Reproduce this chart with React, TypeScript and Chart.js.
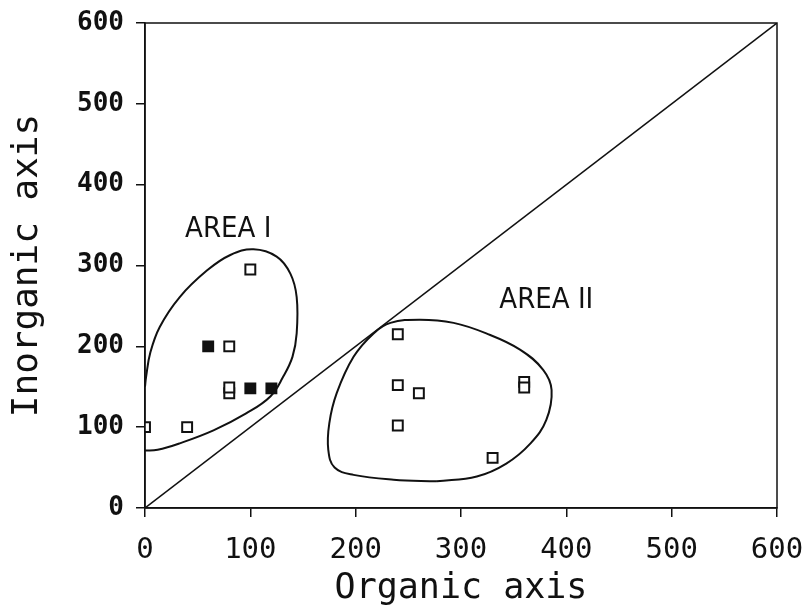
import React, { useEffect, useRef } from "react";
import { Chart, registerables } from "chart.js";

Chart.register(...registerables);

// Axis ticks
const axisMin = 0;
const axisMax = 600;
const axisStep = 100;

// Open squares (organic, inorganic)
const openX = [0, 40, 80, 80, 80, 100, 240, 240, 260, 240, 360, 360, 330];
const openY = [100, 100, 142, 149, 200, 295, 215, 152, 142, 102, 156, 149, 62];

// Filled squares
const filledX = [60, 100, 120];
const filledY = [200, 148, 148];

// Diagonal line (inorganic = organic)
const diagX = [0, 600];
const diagY = [0, 600];

// AREA I outline
const areaIX = [0, 1, 5, 14, 33, 59, 81, 103, 125, 138, 144, 144, 140, 131, 119, 96, 65, 33, 12, 0];
const areaIY = [150, 162, 192, 224, 261, 294, 313, 320, 311, 290, 261, 216, 187, 162, 138, 117, 96, 80, 72, 71];

// AREA II outline (closed)
const areaIIX = [277, 315, 343, 366, 381, 386, 378, 356, 324, 293, 261, 233, 217, 198, 182, 175, 174, 180, 198, 236, 277];
const areaIIY = [33, 39, 55, 80, 109, 146, 171, 196, 216, 229, 233, 229, 216, 187, 142, 105, 72, 50, 41, 35, 33];

// Area labels
const areaLabels = ["AREA I", "AREA II"];
const areaLabelX = [79, 381];
const areaLabelY = [345, 257];

const xTitle = "Organic axis";
const yTitle = "Inorganic axis";

const zip = (xs: number[], ys: number[]) => xs.map((x, i) => ({ x, y: ys[i] }));

const framePlugin = {
  id: "frame",
  afterDatasetsDraw(chart: any) {
    const { ctx, chartArea } = chart;
    ctx.save();
    ctx.strokeStyle = "#111";
    ctx.lineWidth = 1.5;
    ctx.strokeRect(chartArea.left, chartArea.top, chartArea.right - chartArea.left, chartArea.bottom - chartArea.top);
    ctx.restore();
  },
};

const labelPlugin = {
  id: "areaLabels",
  afterDatasetsDraw(chart: any) {
    const { ctx, scales } = chart;
    ctx.save();
    ctx.fillStyle = "#111";
    ctx.font = "29px 'Liberation Sans Narrow', 'DejaVu Sans Condensed', 'DejaVu Sans', sans-serif";
    ctx.textAlign = "center";
    ctx.textBaseline = "middle";
    areaLabels.forEach((t, i) => {
      ctx.fillText(t, scales.x.getPixelForValue(areaLabelX[i]), scales.y.getPixelForValue(areaLabelY[i]));
    });
    ctx.restore();
  },
};

export default function App() {
  const ref = useRef<HTMLCanvasElement | null>(null);

  useEffect(() => {
    if (!ref.current) return;
    const lineStyle = {
      showLine: true,
      pointRadius: 0,
      borderColor: "#111",
      backgroundColor: "#111",
      fill: false,
    };
    const chart = new Chart(ref.current, {
      type: "scatter",
      data: {
        datasets: [
          { ...lineStyle, label: "diag", data: zip(diagX, diagY), borderWidth: 1.5, tension: 0 },
          { ...lineStyle, label: "Area I", data: zip(areaIX, areaIY), borderWidth: 2, tension: 0.4 },
          { ...lineStyle, label: "Area II", data: zip(areaIIX, areaIIY), borderWidth: 2, tension: 0.4 },
          {
            label: "open",
            data: zip(openX, openY),
            pointStyle: "rect",
            pointRadius: 7,
            borderWidth: 2,
            borderColor: "#111",
            backgroundColor: "#fff",
          },
          {
            label: "filled",
            data: zip(filledX, filledY),
            pointStyle: "rect",
            pointRadius: 7,
            borderWidth: 2,
            borderColor: "#111",
            backgroundColor: "#111",
          },
        ],
      },
      options: {
        responsive: false,
        animation: false,
        layout: { padding: { top: 23, right: 33, left: 0, bottom: 0 } },
        plugins: { legend: { display: false }, tooltip: { enabled: false } },
        scales: {
          x: {
            type: "linear",
            min: axisMin,
            max: axisMax,
            afterFit: (s: any) => {
              s.height = 102;
              s.paddingLeft = 0;
              s.paddingRight = 0;
            },
            ticks: {
              stepSize: axisStep,
              color: "#111",
              padding: 16,
              maxRotation: 0,
              font: { family: "'DejaVu Sans Mono', monospace", size: 29 },
            },
            grid: { drawOnChartArea: false, drawTicks: true, tickLength: 9, color: "#111", lineWidth: 1.5 },
            border: { display: true, color: "#111", width: 1.5 },
            title: {
              display: true,
              text: xTitle,
              color: "#111",
              font: { family: "'DejaVu Sans Mono', monospace", size: 35 },
              padding: { top: 0, bottom: 0 },
            },
          },
          y: {
            type: "linear",
            min: axisMin,
            max: axisMax,
            afterFit: (s: any) => {
              s.width = 145;
              s.paddingTop = 0;
              s.paddingBottom = 0;
            },
            ticks: {
              stepSize: axisStep,
              color: "#111",
              padding: 12,
              font: { family: "'DejaVu Sans Mono', monospace", size: 26, weight: "bold" },
            },
            grid: { drawOnChartArea: false, drawTicks: true, tickLength: 9, color: "#111", lineWidth: 1.5 },
            border: { display: true, color: "#111", width: 1.5 },
            title: {
              display: true,
              text: yTitle,
              color: "#111",
              font: { family: "'DejaVu Sans Mono', monospace", size: 36 },
              padding: { top: 6, bottom: 0 },
            },
          },
        },
      },
      plugins: [framePlugin, labelPlugin],
    } as any);
    return () => chart.destroy();
  }, []);

  return (
    <div style={{ position: "fixed", left: 0, top: 0, width: 810, height: 610, background: "#fff" }}>
      <canvas ref={ref} width={810} height={610} />
    </div>
  );
}
